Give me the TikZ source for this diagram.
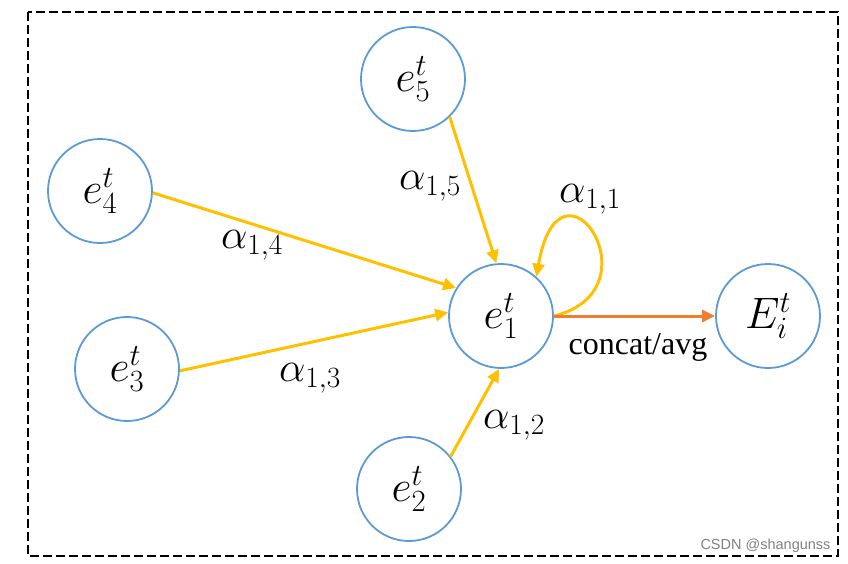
\RequirePackage{fix-cm}
\documentclass[tikz,border=0pt]{standalone}
\usepackage{fontspec}
\setmainfont{Liberation Serif}
\newfontfamily\capfont{Liberation Serif}
\newfontfamily\wmfont{Liberation Sans}
\usetikzlibrary{arrows.meta}
\definecolor{cblue}{HTML}{5B9BD5}
\definecolor{cyel}{HTML}{FFC000}
\definecolor{corg}{HTML}{ED7D31}
\begin{document}
\begin{tikzpicture}[x=1pt,y=-1pt,
  ent/.style={circle,draw=cblue,line width=1.8pt,minimum size=104pt,inner sep=0pt,font=\fontsize{44}{50}\selectfont},
  att/.style={draw=cyel,line width=3pt,-{Triangle[length=13pt,width=12pt]}},
  agg/.style={draw=corg,line width=3pt,-{Triangle[length=13pt,width=12pt]}},
  lab/.style={font=\fontsize{42}{48}\selectfont},
]
\useasboundingbox (0,0) rectangle (848,563);
\draw[line width=1.8pt,dash pattern=on 9pt off 4pt] (28,12) rectangle (838,556);
\node[ent] (e5) at (413,79) {$e_5^t$};
\node[ent] (e4) at (100,191) {$e_4^t$};
\node[ent] (e3) at (127,369) {$e_3^t$};
\node[ent] (e1) at (501,316) {$e_1^t$};
\node[ent] (e2) at (409,489) {$e_2^t$};
\node[ent] (Ei) at (768,316) {$E_i^t$};
\draw[att] (e5.-46) -- (e1.95);
\draw[att] (e4.-2) -- (e1.148);
\draw[att] (e3.-2) -- (e1.176);
\draw[att] (e2.38) -- (e1.-92);
\draw[att] (e1.east) .. controls (660,290) and (560,140) .. (e1.48);
\draw[agg] (e1.east) -- (Ei.west);
\node[lab] (l5) at (430,186) {$\alpha_{1,5}$};
\node[lab] (l4) at (252,245) {$\alpha_{1,4}$};
\node[lab] (l3) at (310,378) {$\alpha_{1,3}$};
\node[lab] (l2) at (514,425) {$\alpha_{1,2}$};
\node[lab] (l1) at (590,199) {$\alpha_{1,1}$};
\node[font=\capfont\fontsize{32}{36}\selectfont] (ca) at (638,347) {concat/avg};
\node[anchor=east,text=gray,font=\wmfont\fontsize{14.5}{17}\selectfont] (wm) at (834,546) {CSDN @shangunss};
\end{tikzpicture}
\end{document}
